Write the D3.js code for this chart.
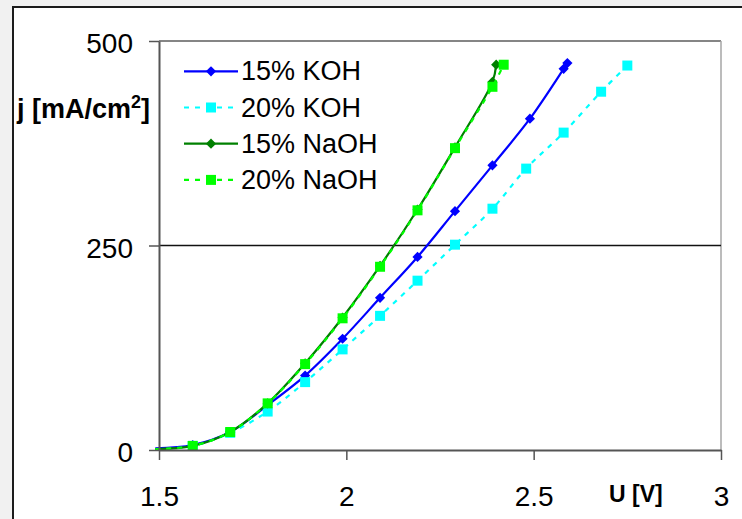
<!DOCTYPE html>
<html>
<head>
<meta charset="utf-8">
<script src="https://cdn.jsdelivr.net/npm/d3@7"></script>
<style>
  body { margin: 0; background: #f1f1f1; }
  svg { display: block; font-family: "Liberation Sans", Arial, sans-serif; }
</style>
</head>
<body>
<script>
// series names (legend order)
let seriesNames = ['15% KOH', '20% KOH', '15% NaOH', '20% NaOH']

// U [V] and j [mA/cm2]
let koh15U = [1.49, 1.59, 1.69, 1.79, 1.89, 1.99, 2.09, 2.19, 2.29, 2.39, 2.49, 2.58, 2.59]
let koh15J = [2, 6, 22, 55, 91, 136, 186, 236, 292, 348, 405, 466, 473]

let koh20U = [1.49, 1.59, 1.69, 1.79, 1.89, 1.99, 2.09, 2.19, 2.29, 2.39, 2.48, 2.58, 2.68, 2.75]
let koh20J = [1, 5, 21, 47, 83, 123, 164, 207, 251, 295, 344, 388, 438, 470]

let naoh15U = [1.49, 1.59, 1.69, 1.79, 1.89, 1.99, 2.09, 2.19, 2.29, 2.39, 2.40]
let naoh15J = [1, 5, 22, 57, 106, 162, 225, 294, 370, 450, 471]

let naoh20U = [1.49, 1.59, 1.69, 1.79, 1.89, 1.99, 2.09, 2.19, 2.29, 2.39, 2.42]
let naoh20J = [1, 5, 22, 57, 105, 161, 224, 293, 369, 444, 471]

let xTicks = [1.5, 2, 2.5, 3]
let xTickLabels = ['1.5', '2', '2.5', '3']
let yTicks = [0, 250, 500]

width = 742
height = 519
margin = ({
  'left': 159,
  'right': 21,
  'top': 41,
  'bottom': 69
})

let series = [
  { name: seriesNames[0], u: koh15U, j: koh15J, color: '#0000ff', dash: null, marker: 'diamond' },
  { name: seriesNames[1], u: koh20U, j: koh20J, color: '#00ffff', dash: '5,6', marker: 'square' },
  { name: seriesNames[2], u: naoh15U, j: naoh15J, color: '#008000', dash: null, marker: 'diamond' },
  { name: seriesNames[3], u: naoh20U, j: naoh20J, color: '#00ff00', dash: '5,6', marker: 'square' }
]

let svg = d3.select('body')
  .append('svg')
  .attr('width', width)
  .attr('height', height)

// outer chart frame
svg.append('rect')
  .attr('x', 13)
  .attr('y', 7)
  .attr('width', width + 40)
  .attr('height', height + 40)
  .attr('fill', 'white')
  .attr('stroke', '#1c1c1c')
  .attr('stroke-width', 2)

let x = d3.scaleLinear()
  .domain([1.5, 3])
  .range([margin.left, width - margin.right])

let y = d3.scaleLinear()
  .domain([0, 500])
  .range([height - margin.bottom, margin.top])

// plot area top / right border
svg.append('line')
  .attr('x1', x(1.5)).attr('x2', x(3))
  .attr('y1', y(500)).attr('y2', y(500))
  .attr('stroke', '#858585').attr('stroke-width', 2)
svg.append('line')
  .attr('x1', x(3)).attr('x2', x(3))
  .attr('y1', y(500)).attr('y2', y(0))
  .attr('stroke', '#a6a6a6').attr('stroke-width', 1.5)

// gridline at 250
svg.append('line')
  .attr('x1', x(1.5)).attr('x2', x(3))
  .attr('y1', y(250)).attr('y2', y(250))
  .attr('stroke', '#111').attr('stroke-width', 1.3)

let xAxis = d3.axisBottom(x)
  .tickValues(xTicks)
  .tickFormat((d, i) => xTickLabels[i])
  .tickSize(10)
  .tickSizeOuter(0)
  .tickPadding(26)

let yAxis = d3.axisLeft(y)
  .tickValues(yTicks)
  .tickSize(10)
  .tickSizeOuter(0)
  .tickPadding(16)

let line = d3.line()
  .x(d => x(d[0]))
  .y(d => y(d[1]))
  .curve(d3.curveCatmullRom.alpha(0.5))

let symbolFor = m => m === 'diamond'
  ? d3.symbol(d3.symbolSquare, 52)()
  : d3.symbol(d3.symbolSquare, 100)()

series.forEach(s => {
  let pts = s.u.map((u, i) => [u, s.j[i]])
  svg.append('path')
    .datum(pts)
    .attr('d', line)
    .attr('fill', 'none')
    .attr('stroke', s.color)
    .attr('stroke-width', 2.2)
    .attr('stroke-dasharray', s.dash)

  // markers only inside the axis range, like the original
  svg.append('g')
    .selectAll('path')
    .data(pts.filter(d => d[0] >= x.domain()[0]))
    .join('path')
      .attr('d', symbolFor(s.marker))
      .attr('transform', d => `translate(${x(d[0])},${y(d[1])})` + (s.marker === 'diamond' ? ' rotate(45)' : ''))
      .attr('fill', s.color)
})

svg.append('g')
  .attr('transform', `translate(0, ${height - margin.bottom})`)
  .call(xAxis)
  .call(g => g.select('.domain').attr('stroke', '#555').attr('stroke-width', 2))
  .call(g => g.selectAll('.tick line').attr('stroke', '#555').attr('stroke-width', 1.5))
  .call(g => g.selectAll('.tick text').attr('font-size', 28).attr('font-family', '"Liberation Sans", Arial').attr('fill', '#000'))

svg.append('g')
  .attr('transform', `translate(${margin.left}, 0)`)
  .call(yAxis)
  .call(g => g.select('.domain').attr('stroke', '#555').attr('stroke-width', 2))
  .call(g => g.selectAll('.tick line').attr('stroke', '#555').attr('stroke-width', 1.5))
  .call(g => g.selectAll('.tick text').attr('font-size', 28).attr('dy', '0.42em').attr('font-family', '"Liberation Sans", Arial').attr('fill', '#000'))

// axis titles
let yTitle = svg.append('text')
  .attr('x', 17)
  .attr('y', 117.5)
  .attr('font-size', 27)
  .attr('font-weight', 'bold')
yTitle.append('tspan').text('j [mA/cm')
yTitle.append('tspan').attr('font-size', 18).attr('dy', -10).text('2')
yTitle.append('tspan').attr('dy', 10).text(']')

svg.append('text')
  .attr('x', 609)
  .attr('y', 501.5)
  .attr('font-size', 23)
  .attr('font-weight', 'bold')
  .text('U [V]')

// legend
let legend = svg.append('g')
legend.selectAll('g')
  .data(series)
  .join('g')
    .attr('transform', (d, i) => `translate(0, ${71.3 + i * 36.2})`)
    .each(function (s) {
      let g = d3.select(this)
      g.append('line')
        .attr('x1', 184).attr('x2', 238)
        .attr('stroke', s.color)
        .attr('stroke-width', 2.2)
        .attr('stroke-dasharray', s.dash)
      g.append('path')
        .attr('d', symbolFor(s.marker))
        .attr('transform', 'translate(211,0)' + (s.marker === 'diamond' ? ' rotate(45)' : ''))
        .attr('fill', s.color)
      g.append('text')
        .attr('x', 241)
        .attr('y', 9)
        .attr('font-size', 27)
        .text(s.name)
    })
</script>
</body>
</html>
